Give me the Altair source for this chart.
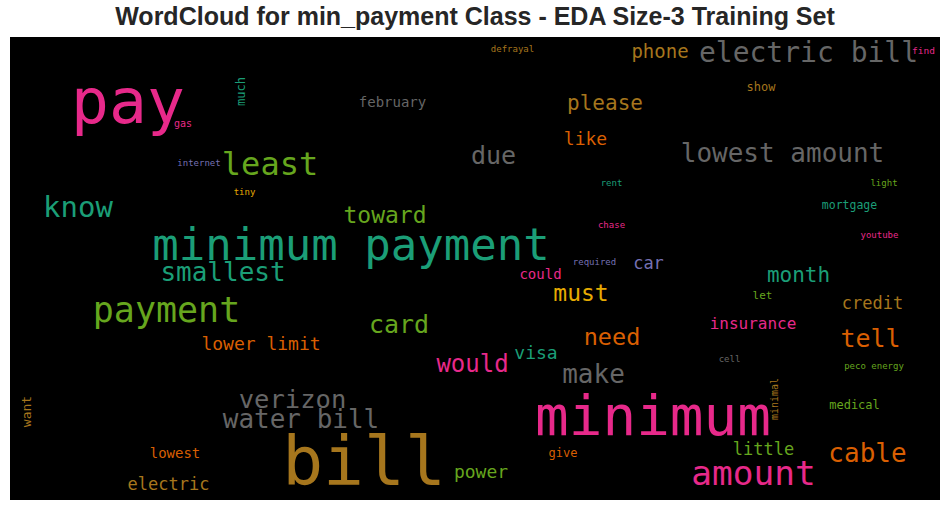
import altair as alt
import pandas as pd

# Word cloud layout (plot-area pixel space 930 x 463, y downward)
words = ["pay", "much", "gas", "internet", "least", "tiny", "know", "minimum payment",
         "smallest", "payment", "lower limit", "toward", "chase", "required", "could",
         "must", "card", "need", "car", "month", "mortgage", "youtube", "let", "credit",
         "insurance", "tell", "phone", "electric bill", "find", "show", "please",
         "lowest amount", "light", "defrayal", "february", "like", "due", "rent", "want",
         "verizon", "water bill", "bill", "lowest", "electric", "would", "visa", "make",
         "minimum", "give", "power", "cell", "peco energy", "minimal", "medical", "little",
         "cable", "amount"]
x_img = [128, 245, 183, 199, 270, 244.5, 78, 351,
         223, 166.5, 261, 385, 611.5, 594.5, 540.5,
         581, 399, 612, 648.5, 798.5, 849.5, 879.5, 762.5, 872.5,
         753, 870.5, 660, 808.5, 923.5, 761, 605,
         782.5, 884, 512.5, 392.5, 585.5, 493.5, 611.5, 31,
         292.5, 301, 364, 175, 168.5, 472.5, 536, 593.5,
         653, 563, 481, 729.5, 874, 778, 854.5, 763.5,
         867.5, 753.5]
y_img = [123, 91.5, 127, 166, 175, 195, 217, 260,
         281, 322, 350, 223, 228, 265, 279,
         301, 333, 345, 269, 282, 209, 238, 299, 309,
         329, 347, 58, 62, 54, 91, 110,
         162, 186, 52, 107, 145, 164, 186, 411.5,
         408, 428, 485, 458, 490, 372, 359, 383,
         435, 457, 478, 362, 369, 399, 409, 455,
         462, 485]
font_sizes = [63, 12, 10, 9, 32, 9, 29, 44,
              26, 35, 18, 23, 9, 9, 14,
              23, 25, 23.5, 17, 21, 11.5, 9, 11, 17,
              16, 25, 19, 28, 9.5, 12, 21,
              26, 9, 9, 14, 18, 25, 9, 13,
              25.5, 26, 68, 14, 17, 24, 18, 26,
              56, 12, 18, 9, 9, 10, 12, 17,
              26, 34.5]
angles = [0, 270, 0, 0, 0, 0, 0, 0,
          0, 0, 0, 0, 0, 0, 0,
          0, 0, 0, 0, 0, 0, 0, 0, 0,
          0, 0, 0, 0, 0, 0, 0,
          0, 0, 0, 0, 0, 0, 0, 270,
          0, 0, 0, 0, 0, 0, 0, 0,
          0, 0, 0, 0, 0, 270, 0, 0,
          0, 0]
colors = ["#e7298a", "#1b9e77", "#e7298a", "#7570b3", "#66a61e", "#e6ab02", "#1b9e77", "#1b9e77",
          "#1b9e77", "#66a61e", "#d95f02", "#66a61e", "#e7298a", "#7570b3", "#e7298a",
          "#e6ab02", "#66a61e", "#d95f02", "#7570b3", "#1b9e77", "#1b9e77", "#e7298a", "#66a61e", "#a6761d",
          "#e7298a", "#d95f02", "#a6761d", "#666666", "#e7298a", "#a6761d", "#a6761d",
          "#666666", "#66a61e", "#a6761d", "#666666", "#d95f02", "#666666", "#1b9e77", "#a6761d",
          "#666666", "#666666", "#a6761d", "#d95f02", "#a6761d", "#e7298a", "#1b9e77", "#666666",
          "#e7298a", "#d95f02", "#66a61e", "#666666", "#66a61e", "#a6761d", "#66a61e", "#66a61e",
          "#d95f02", "#e7298a"]

df = pd.DataFrame({
    "word": words,
    "x": [v - 10 for v in x_img],
    "y": [v - 37 for v in y_img],
    "fs": font_sizes,
    "angle": angles,
    "color": colors,
})

chart = alt.Chart(df).mark_text(
    font="DejaVu Sans Mono", align="center", baseline="alphabetic"
).encode(
    x=alt.X("x:Q", scale=alt.Scale(domain=[0, 930], nice=False, zero=False), axis=None),
    y=alt.Y("y:Q", scale=alt.Scale(domain=[0, 463], nice=False, zero=False, reverse=True), axis=None),
    text="word:N",
    size=alt.Size("fs:Q", scale=None),
    color=alt.Color("color:N", scale=None),
    angle=alt.Angle("angle:Q", scale=None),
).properties(
    width=930,
    height=463,
    title=alt.TitleParams(
        "WordCloud for min_payment Class - EDA Size-3 Training Set",
        fontSize=25, font="Liberation Sans", fontWeight="bold", color="#262626",
        anchor="middle", baseline="alphabetic", offset=9, dy=22,
    ),
    padding={"left": 10, "top": 37, "right": 10, "bottom": 11},
    autosize="none",
    background="white",
).configure_view(fill="black", stroke=None, strokeWidth=0)

chart.save("out.html", embed_options={"renderer": "svg", "actions": False})
